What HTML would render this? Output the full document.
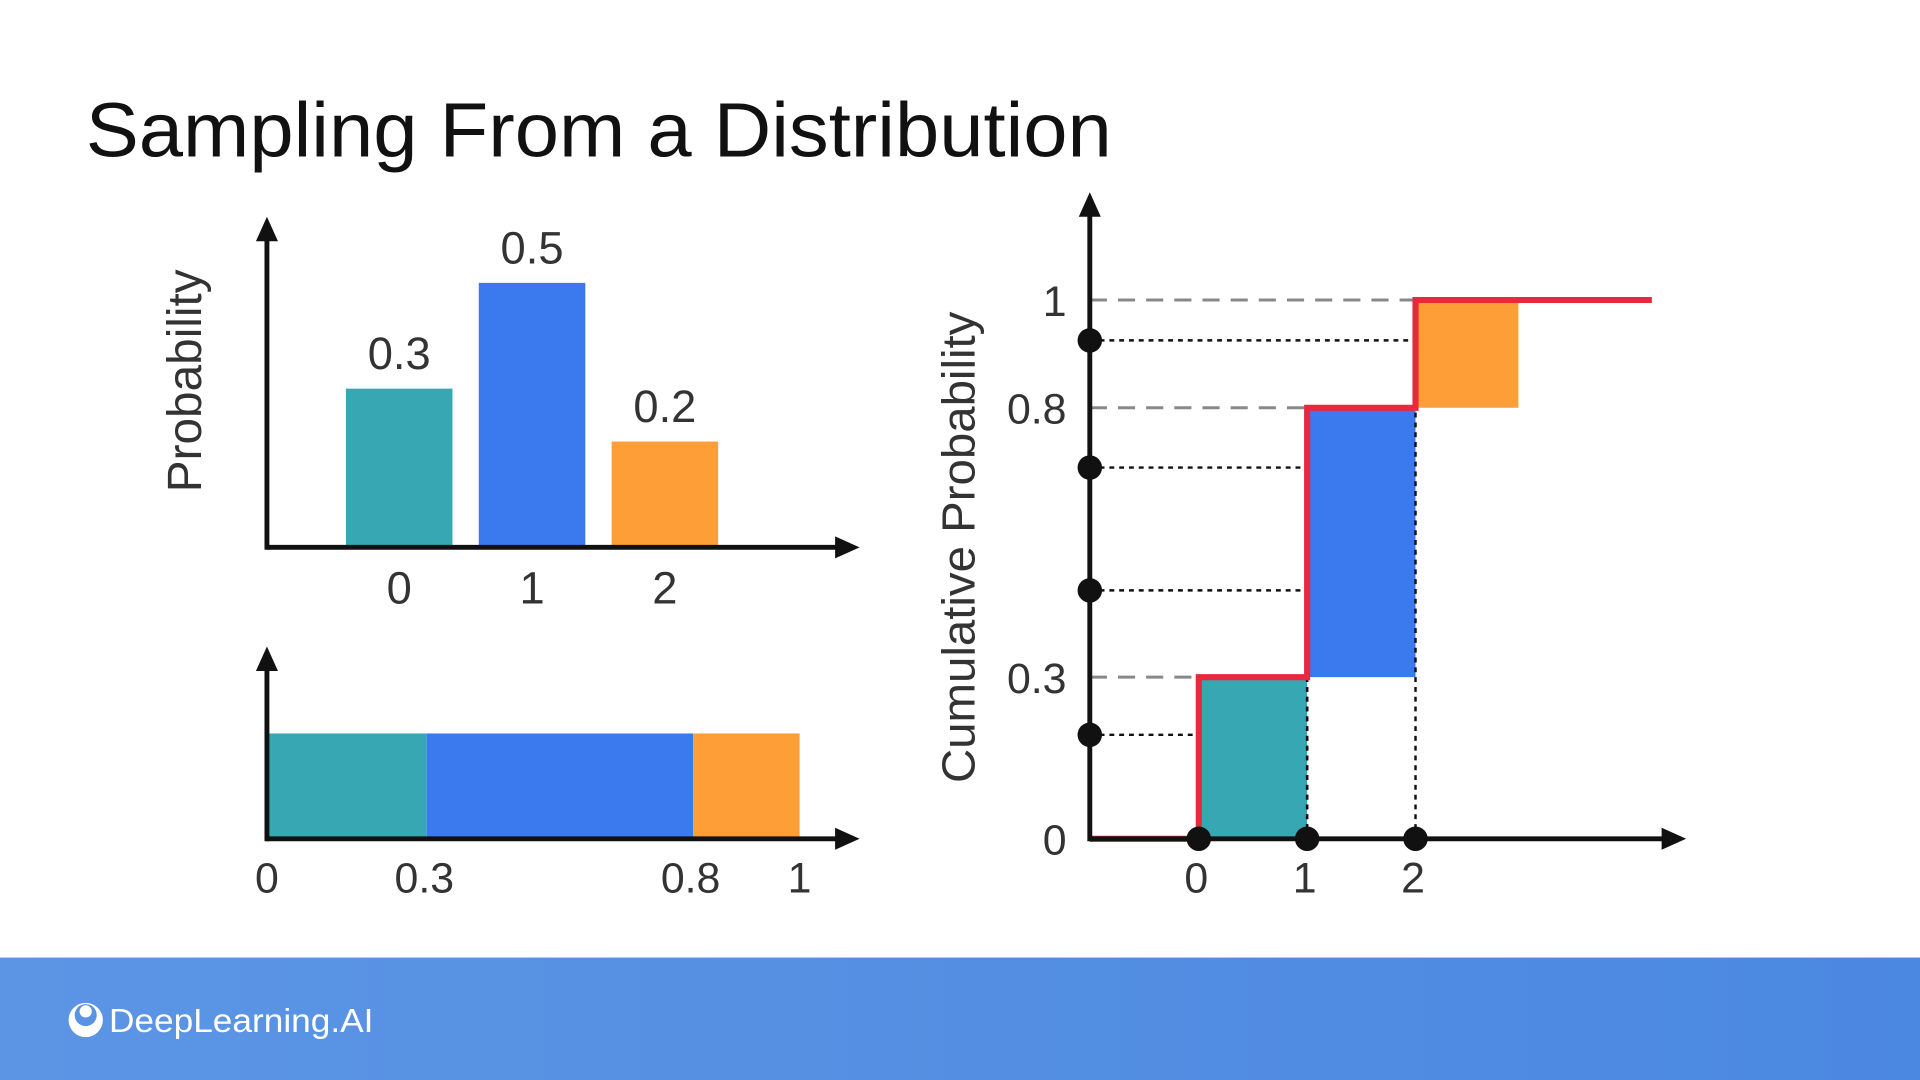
<!DOCTYPE html>
<html><head><meta charset="utf-8"><style>
html,body{margin:0;padding:0;background:#fff;width:1920px;height:1080px;overflow:hidden}
svg{display:block}
text{font-family:"Liberation Sans",Arial,sans-serif}
</style></head><body>
<svg id="s" width="1920" height="1080" viewBox="0 0 1568 882">
<defs>
<linearGradient id="bg" x1="0" x2="1"><stop offset="0" stop-color="#5c95e4"/><stop offset="1" stop-color="#4b88e1"/></linearGradient>
</defs>
<text x="70" y="128" font-size="63" textLength="838" lengthAdjust="spacingAndGlyphs" fill="#111">Sampling From a Distribution</text>
<g id="pmf"></g>
<g id="strip"></g>
<g id="cdf"></g>
<rect x="0" y="782" width="1568" height="100" fill="url(#bg)"/>
<g>
<circle cx="70" cy="833" r="14" fill="#fff"/>
<circle cx="70" cy="829" r="9" fill="#5a93e3"/>
<circle cx="70" cy="826" r="5" fill="#fff"/>
<text x="89" y="843" font-size="27" textLength="216" lengthAdjust="spacingAndGlyphs" fill="#fff">DeepLearning.AI</text>
</g>
</svg>
<script>
const NS='http://www.w3.org/2000/svg';
const categories=[0,1,2];
const probs=[0.3,0.5,0.2];
const probLabels=['0.3','0.5','0.2'];
const colors=['#37a7b3','#3a79ee','#fd9f36'];
const cumTicks=['0','0.3','0.8','1'];
const samples=[0.193,0.461,0.689,0.925];

function el(t,a,p){const e=document.createElementNS(NS,t);for(const k in a)e.setAttribute(k,a[k]);p.appendChild(e);return e;}
function arrowUp(x,y,p){el('polygon',{points:`${x-9},${y+20} ${x+9},${y+20} ${x},${y}`,fill:'#111'},p);}
function arrowRight(x,y,p){el('polygon',{points:`${x-20},${y-9} ${x-20},${y+9} ${x},${y}`,fill:'#111'},p);}
const cum=[0];probs.forEach((v,i)=>cum.push(cum[i]+v));

// PMF
const pmf=document.getElementById('pmf');
const px=i=>326+i*108.5, py=v=>447-v*432;
categories.forEach((c,i)=>{
 const r=el('rect',{x:px(i)-43.5,y:py(probs[i]),width:87,height:447-py(probs[i]),fill:colors[i]},pmf);
 
 
 const t=el('text',{x:px(i),y:py(probs[i])-16,'font-size':37,fill:'#333','text-anchor':'middle'},pmf);t.textContent=probLabels[i];
 
 
 const k=el('text',{x:px(i),y:493,'font-size':37,fill:'#333','text-anchor':'middle'},pmf);k.textContent=c;
 
 
});
el('line',{x1:218,y1:447,x2:685,y2:447,stroke:'#111','stroke-width':4},pmf);
el('line',{x1:218,y1:449,x2:218,y2:195,stroke:'#111','stroke-width':4},pmf);
arrowUp(218,177,pmf);arrowRight(702,447,pmf);
const yl=el('text',{x:0,y:0,'font-size':39,fill:'#333','text-anchor':'middle',transform:'translate(164,311) rotate(-90)'},pmf);yl.textContent='Probability';



// strip
const strip=document.getElementById('strip');
const sx=v=>218+v*435;
probs.forEach((v,i)=>{
 const r=el('rect',{x:sx(cum[i]),y:599,width:sx(cum[i+1])-sx(cum[i]),height:86,fill:colors[i]},strip);
 
 
});
el('line',{x1:218,y1:685,x2:685,y2:685,stroke:'#111','stroke-width':4},strip);
el('line',{x1:218,y1:687,x2:218,y2:545,stroke:'#111','stroke-width':4},strip);
arrowUp(218,528,strip);arrowRight(702,685,strip);
cum.forEach((v,i)=>{
 const t=el('text',{x:sx(v)-(i==1||i==2?2:0),y:729,'font-size':35,fill:'#333','text-anchor':'middle'},strip);t.textContent=cumTicks[i];
 
 
});

// CDF
const cdf=document.getElementById('cdf');
const cx=i=>979+i*88.5, cy=v=>685-v*440;
probs.forEach((v,i)=>{
 const w=i==2?84:88.5;
 const r=el('rect',{x:cx(i),y:cy(cum[i+1]),width:w,height:cy(cum[i])-cy(cum[i+1]),fill:colors[i]},cdf);
 
 
});
cum.slice(1).forEach((v,i)=>{
 el('line',{x1:890,y1:cy(v),x2:cx(i),y2:cy(v),stroke:'#888','stroke-width':2.5,'stroke-dasharray':'14 9'},cdf);
});
samples.forEach(s=>{
 const k=cum.findIndex(c=>c>s)-1;
 el('line',{x1:890,y1:cy(s),x2:cx(k),y2:cy(s),stroke:'#111','stroke-width':2,'stroke-dasharray':'4 4'},cdf);
 if(k>0) el('line',{x1:cx(k),y1:685,x2:cx(k),y2:cy(s),stroke:'#111','stroke-width':2,'stroke-dasharray':'4 4'},cdf);
});
let d=`M890,${cy(0)}`;
categories.forEach((c,i)=>{d+=` L${cx(i)},${cy(cum[i])} L${cx(i)},${cy(cum[i+1])}`;});
d+=` L1349,${cy(1)}`;
const st=el('path',{d:d,fill:'none',stroke:'#e8283c','stroke-width':5},cdf);


el('line',{x1:890,y1:685,x2:1360,y2:685,stroke:'#111','stroke-width':4},cdf);
el('line',{x1:890,y1:687,x2:890,y2:175,stroke:'#111','stroke-width':4},cdf);
arrowUp(890,157,cdf);arrowRight(1377,685,cdf);
samples.forEach(s=>{el('circle',{cx:890,cy:cy(s),r:10,fill:'#111'},cdf);});
categories.forEach((c,i)=>{
 el('circle',{cx:cx(i),cy:685,r:10,fill:'#111'},cdf);
 const t=el('text',{x:cx(i)-2,y:729,'font-size':35,fill:'#333','text-anchor':'middle'},cdf);t.textContent=c;
 
 
});
cum.forEach((v,i)=>{
 const t=el('text',{x:871,y:cy(v)+13,'font-size':35,fill:'#333','text-anchor':'end'},cdf);t.textContent=cumTicks[i];
 
 
});
const cl=el('text',{x:0,y:0,'font-size':38,textLength:385,lengthAdjust:'spacingAndGlyphs',fill:'#333','text-anchor':'middle',transform:'translate(796,447) rotate(-90)'},cdf);cl.textContent='Cumulative Probability';


</script>
</body></html>
